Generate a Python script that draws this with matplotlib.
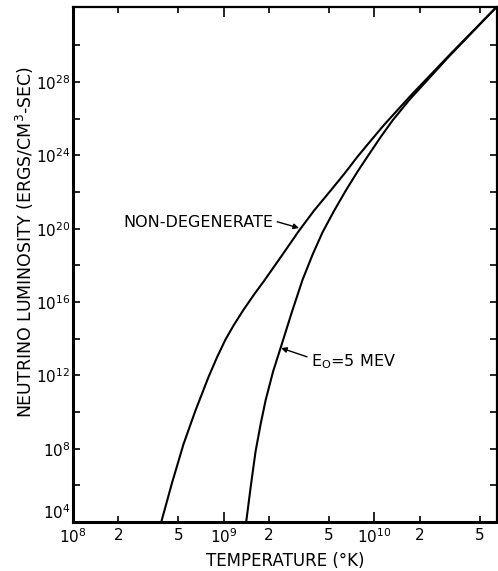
import numpy as np
import matplotlib
matplotlib.use('Agg')
import matplotlib.pyplot as plt
from matplotlib.ticker import FixedLocator, NullFormatter

# values (temperature in K, luminosity in ergs/cm^3-sec)
nondeg_T = [3.85e8, 4.53e8, 5.41e8, 6.47e8, 7.94e8, 9.04e8, 1.026e9, 1.167e9,
            1.358e9, 1.585e9, 1.849e9, 2.388e9, 3.162e9, 3.981e9, 5.14e9,
            6.31e9, 7.745e9, 9.506e9, 1.167e10, 1.413e10, 1.71e10, 3.162e10,
            6.457e10]
nondeg_L = [1e4, 1.29e6, 1.78e8, 1.12e10, 8.51e11, 1.0e13, 8.91e13, 5.62e14,
            3.98e15, 2.51e16, 1.41e17, 2.82e18, 7.94e19, 1.0e21, 1.26e22,
            1.0e23, 8.91e23, 6.76e24, 5.01e25, 2.82e26, 1.58e27, 3.16e29,
            1.26e32]

e0_T = [1.409e9, 1.514e9, 1.626e9, 1.758e9, 1.897e9, 2.123e9, 2.388e9,
        2.818e9, 3.327e9, 3.89e9, 4.519e9, 5.37e9, 6.471e9, 7.762e9,
        9.268e9, 1.109e10, 1.324e10, 1.71e10, 3.162e10, 6.457e10]
e0_L = [1e4, 1.0e6, 7.08e7, 2.24e9, 4.47e10, 1.58e12, 3.31e13, 2.51e15,
        1.58e17, 3.98e18, 6.31e19, 8.91e20, 1.26e22, 1.41e23, 1.26e24,
        1.12e25, 8.51e25, 1.12e27, 2.82e29, 1.26e32]

x_major = [1e8, 1e9, 1e10]
x_major_labels = ['$10^8$', '$10^9$', '$10^{10}$']
x_minor = [2e8, 5e8, 2e9, 5e9, 2e10, 5e10]
x_minor_labels = ['2', '5', '2', '5', '2', '5']
y_major = [1e4, 1e8, 1e12, 1e16, 1e20, 1e24, 1e28]
y_major_labels = ['$10^{4}$', '$10^{8}$', '$10^{12}$', '$10^{16}$',
                  '$10^{20}$', '$10^{24}$', '$10^{28}$']
y_minor = [1e6, 1e10, 1e14, 1e18, 1e22, 1e26, 1e30]

fig = plt.figure(figsize=(4.98, 5.71), dpi=100)
ax = fig.add_axes([0.1466, 0.0858, 0.8514, 0.902])

ax.plot(nondeg_T, nondeg_L, color='black', lw=1.5, solid_joinstyle='round')
ax.plot(e0_T, e0_L, color='black', lw=1.5, solid_joinstyle='round')

ax.set_xscale('log')
ax.set_yscale('log')
ax.set_xlim(1e8, 6.5e10)
ax.set_ylim(1e4, 1.26e32)

ax.xaxis.set_major_locator(FixedLocator(x_major))
ax.set_xticklabels(x_major_labels)
ax.xaxis.set_minor_locator(FixedLocator(x_minor))
ax.set_xticklabels(x_minor_labels, minor=True)
ax.yaxis.set_major_locator(FixedLocator(y_major))
ax.set_yticklabels(y_major_labels)
ax.yaxis.set_minor_locator(FixedLocator(y_minor))
ax.yaxis.set_minor_formatter(NullFormatter())

ax.tick_params(which='both', direction='in', top=True, right=True,
               labelsize=11, color='black')
ax.tick_params(axis='x', which='major', length=7, width=1.2, pad=4)
ax.tick_params(axis='x', which='minor', length=4, width=1.2, pad=4)
ax.tick_params(axis='y', which='both', length=5, width=1.2, pad=2)
# lift the bottom y label so it clears the 10^8 below it
ax.get_yticklabels()[0].set_verticalalignment('bottom')

for side in ['left', 'bottom']:
    ax.spines[side].set_linewidth(2.2)
for side in ['top', 'right']:
    ax.spines[side].set_linewidth(1.6)

ax.set_xlabel('TEMPERATURE (°K)', fontsize=12, va='center')
ax.xaxis.set_label_coords(0.5, -0.0757)
ax.set_ylabel('NEUTRINO LUMINOSITY (ERGS/CM$^3$-SEC)', fontsize=12.5)
ax.yaxis.set_label_coords(-0.087, 0.544)

ax.annotate('NON-DEGENERATE', xy=(3.16e9, 1.1e20), xytext=(2.15e8, 2.3e20),
            fontsize=11.5, va='center', ha='left',
            arrowprops=dict(arrowstyle='-|>', color='black', lw=1.0,
                            shrinkA=1, shrinkB=0, mutation_scale=8,
                            relpos=(1.0, 0.6)))
ax.annotate('E$_\\mathrm{O}$=5 MEV', xy=(2.4e9, 3.1e13), xytext=(3.8e9, 5.4e12),
            fontsize=11.5, va='center', ha='left',
            arrowprops=dict(arrowstyle='-|>', color='black', lw=1.0,
                            shrinkA=1, shrinkB=0, mutation_scale=8,
                            relpos=(0.0, 0.7)))

fig.savefig('out.png', dpi=100)
